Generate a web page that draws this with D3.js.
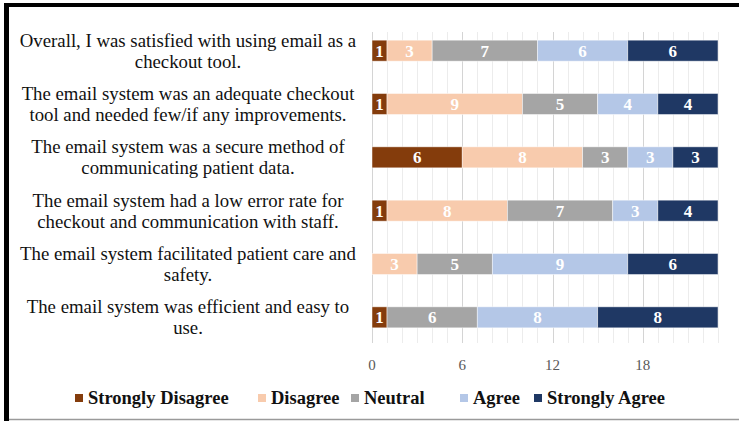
<!DOCTYPE html>
<html>
<head>
<meta charset="utf-8">
<script src="https://cdn.jsdelivr.net/npm/d3@7"></script>
<style>
	html, body { margin: 0; padding: 0; background: #fff; }
	svg { display: block; }
</style>
</head>
<body>
<div id="area"></div>
<script>

// chart data
var questions = [
	['Overall, I was satisfied with using email as a', 'checkout tool.'],
	['The email system was an adequate checkout', 'tool and needed few/if any improvements.'],
	['The email system was a secure method of', 'communicating patient data.'],
	['The email system had a low error rate for', 'checkout and communication with staff.'],
	['The email system facilitated patient care and', 'safety.'],
	['The email system was efficient and easy to', 'use.']
];
var seriesNames = ['Strongly Disagree', 'Disagree', 'Neutral', 'Agree', 'Strongly Agree'];
var stronglyDisagree = [1, 1, 6, 1, 0, 1];
var disagree = [3, 9, 8, 8, 3, 0];
var neutral = [7, 5, 3, 7, 5, 6];
var agree = [6, 4, 3, 3, 9, 8];
var stronglyAgree = [6, 4, 3, 4, 6, 8];
var xTicks = [0, 6, 12, 18];
var xMax = 23;

var colors = ['#843c0c', '#f8cbad', '#a5a5a5', '#b4c7e7', '#1f3864'];

var width = 739, height = 421;
var serif = '"Liberation Serif", "Times New Roman", serif';

var svg = d3.select('#area').append('svg')
	.attr('width', width).attr('height', height);

// build rows for d3.stack
var rows = questions.map(function(q, i){
	return {
		q: i,
		'Strongly Disagree': stronglyDisagree[i],
		'Disagree': disagree[i],
		'Neutral': neutral[i],
		'Agree': agree[i],
		'Strongly Agree': stronglyAgree[i]
	};
});
var stacked = d3.stack().keys(seriesNames)(rows);

var x = d3.scaleLinear().domain([0, xMax]).range([372, 718]);
var y = d3.scaleBand().domain(d3.range(questions.length))
	.range([24, 344]).paddingInner(0.606).paddingOuter(0.303);

// frame
svg.append('rect').attr('x', 4).attr('y', 3).attr('width', 735).attr('height', 4).attr('fill', '#000');
svg.append('rect').attr('x', 4).attr('y', 3).attr('width', 5).attr('height', 418).attr('fill', '#000');
svg.append('line').attr('x1', 9).attr('x2', 739).attr('y1', 419.5).attr('y2', 419.5)
	.attr('stroke', '#9a9a9a').attr('stroke-width', 1.5);

// gridlines
svg.append('g').selectAll('line')
	.data(d3.range(0, xMax + 1))
	.join('line')
	.attr('x1', function(d){ return Math.round(x(d)) + 0.5; })
	.attr('x2', function(d){ return Math.round(x(d)) + 0.5; })
	.attr('y1', 32).attr('y2', 343)
	.attr('stroke', function(d){ return d % 6 === 0 ? '#d4d4d4' : '#ececec'; })
	.attr('stroke-width', 1);

// bars
var layers = svg.append('g').selectAll('g')
	.data(stacked)
	.join('g')
	.attr('fill', function(d, i){ return colors[i]; });

layers.selectAll('rect')
	.data(function(d){ return d.filter(function(s){ return s[1] > s[0]; }); })
	.join('rect')
	.attr('x', function(d){ return x(d[0]); })
	.attr('width', function(d){ return x(d[1]) - x(d[0]); })
	.attr('y', function(d){ return y(d.data.q); })
	.attr('height', y.bandwidth())
	.attr('stroke', '#ffffff')
	.attr('stroke-opacity', 0.6)
	.attr('stroke-width', 0.8);

layers.selectAll('text')
	.data(function(d){ return d.filter(function(s){ return s[1] > s[0]; }); })
	.join('text')
	.attr('x', function(d){ return (x(d[0]) + x(d[1])) / 2; })
	.attr('y', function(d){ return y(d.data.q) + y.bandwidth() / 2; })
	.attr('dy', '0.35em')
	.attr('text-anchor', 'middle')
	.attr('fill', '#fff')
	.style('font-family', serif)
	.style('font-weight', 'bold')
	.style('font-size', '17px')
	.text(function(d){ return d[1] - d[0]; });

// category labels
var labels = svg.append('g').selectAll('text')
	.data(questions)
	.join('text')
	.attr('text-anchor', 'middle')
	.attr('fill', '#111')
	.style('font-family', serif)
	.style('font-size', '18.8px');

labels.each(function(lines, i){
	var cy = y(i) + y.bandwidth() / 2;
	d3.select(this).selectAll('tspan')
		.data(lines)
		.join('tspan')
		.attr('x', 188)
		.attr('y', function(d, j){ return cy + (j - 0.5) * 21; })
		.attr('dy', '0.35em')
		.text(function(d){ return d; });
});

// x axis tick labels
svg.append('g').selectAll('text')
	.data(xTicks)
	.join('text')
	.attr('x', function(d){ return x(d); })
	.attr('y', 365)
	.attr('dy', '0.35em')
	.attr('text-anchor', 'middle')
	.attr('fill', '#595959')
	.style('font-family', serif)
	.style('font-size', '15px')
	.text(function(d){ return d; });

// legend
var legendX = [75, 258, 351, 460, 534];
var legend = svg.append('g').selectAll('g')
	.data(seriesNames)
	.join('g')
	.attr('transform', function(d, i){ return 'translate(' + legendX[i] + ',398)'; });

legend.append('rect')
	.attr('x', 0).attr('y', -4)
	.attr('width', 8).attr('height', 8)
	.attr('fill', function(d, i){ return colors[i]; });

legend.append('text')
	.attr('x', 13)
	.attr('dy', '0.35em')
	.attr('fill', '#111')
	.style('font-family', serif)
	.style('font-weight', 'bold')
	.style('font-size', '18.5px')
	.text(function(d){ return d; });

</script>
</body>
</html>
